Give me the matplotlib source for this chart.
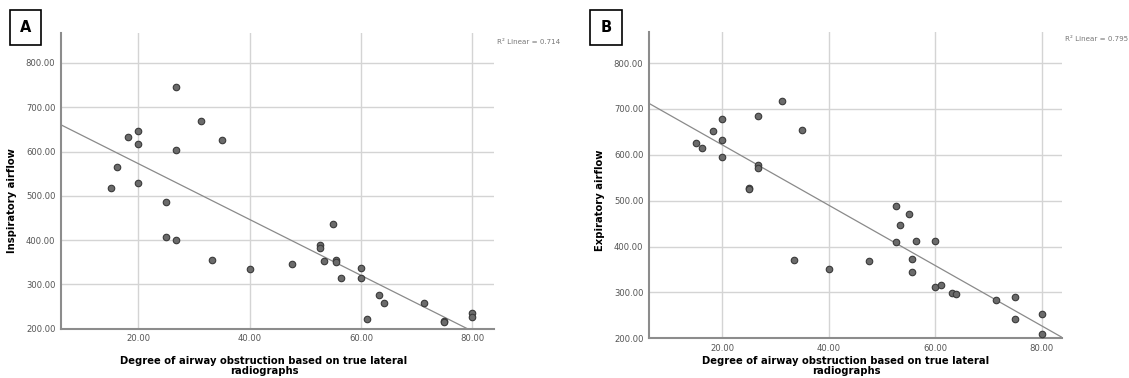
import numpy as np
import matplotlib
matplotlib.use("Agg")
import matplotlib.pyplot as plt

# Panel A: obstruction (%) vs inspiratory airflow
insp_x = [26.7, 31.2, 35.0, 18.2, 20.0, 20.0, 26.7, 16.1, 20.0, 15.0,
          25.0, 25.0, 26.7, 33.3, 40.0, 47.6, 55.0, 52.7, 52.7, 53.3,
          55.6, 55.6, 56.4, 60.0, 60.0, 63.2, 64.1, 61.1, 71.4, 75.0,
          75.0, 80.0, 80.0]
insp_y = [745, 670, 627, 632, 646, 616, 604, 565, 530, 518,
          486, 407, 400, 354, 335, 346, 436, 388, 383, 352,
          355, 350, 315, 336, 315, 277, 257, 221, 257, 218,
          214, 235, 227]

# Panel B: obstruction (%) vs expiratory airflow
exp_x = [31.2, 35.0, 26.7, 20.0, 18.2, 15.0, 16.1, 20.0, 20.0, 26.7,
         26.7, 25.0, 25.0, 33.4, 40.0, 47.6, 52.7, 55.0, 53.4, 52.7,
         56.4, 60.0, 55.6, 55.6, 60.0, 61.1, 63.1, 63.9, 71.4, 75.0,
         75.0, 80.0, 80.0]
exp_y = [717, 654, 685, 678, 652, 626, 614, 632, 595, 577,
         571, 528, 525, 371, 350, 368, 488, 470, 446, 410,
         413, 413, 372, 345, 312, 317, 298, 297, 283, 291,
         241, 252, 210]

x_ticks = [20, 40, 60, 80]
y_ticks = [200, 300, 400, 500, 600, 700, 800]
x_label = "Degree of airway obstruction based on true lateral\nradiographs"

fig = plt.figure(figsize=(11.29, 3.78), dpi=100)


def draw_panel(rect, xs, ys, xlim, ylim, ylabel, ylab_xy, r2, letter,
               letter_pos, r2_pos, xlab_x):
    ax = fig.add_axes(rect)
    ax.set_xlim(*xlim)
    ax.set_ylim(*ylim)
    ax.set_xticks(x_ticks)
    ax.set_yticks(y_ticks)
    ax.set_xticklabels([f"{v:.2f}" for v in x_ticks])
    ax.set_yticklabels([f"{v:.2f}" for v in y_ticks])
    ax.tick_params(length=0, labelsize=6.1, colors="#555555", pad=4)
    ax.grid(True, color="#d4d4d4", linewidth=1.0)
    ax.set_axisbelow(True)
    for s in ["top", "right"]:
        ax.spines[s].set_visible(False)
    for s in ["left", "bottom"]:
        ax.spines[s].set_color("#8c8c8c")
        ax.spines[s].set_linewidth(1.5)

    ax.scatter(xs, ys, s=22, color="#6b6b6b", edgecolor="#3a3a3a",
               linewidth=0.8, zorder=3)

    slope, icpt = np.polyfit(xs, ys, 1)
    lx = np.linspace(xlim[0], xlim[1], 100)
    ax.plot(lx, slope * lx + icpt, color="#8a8a8a", linewidth=0.9, zorder=2,
            clip_on=True)

    ax.set_ylabel(ylabel, fontsize=7.2, fontweight="bold")
    ax.yaxis.set_label_coords(*ylab_xy)
    fig.text(xlab_x, 1 - 356 / 378, x_label, ha="center", va="top",
             fontsize=7.2, fontweight="bold", linespacing=1.05)
    fig.text(r2_pos[0], r2_pos[1], f"R\u00b2 Linear = {r2}", fontsize=5.1,
             color="#777777", va="center", ha="left")
    fig.text(letter_pos[0], letter_pos[1], letter, fontsize=10.5,
             fontweight="bold", ha="center", va="center",
             bbox=dict(boxstyle="square,pad=0.7", facecolor="white",
                       edgecolor="black", linewidth=1.2))
    return ax


draw_panel([61 / 1129, 49.3 / 378, 433 / 1129, 295.7 / 378],
           insp_x, insp_y, (6.1, 83.9), (200, 867.7),
           "Inspiratory airflow", (-0.102, 0.435), "0.714", "A",
           (25.5 / 1129, 1 - 27.5 / 378), (497 / 1129, 1 - 42 / 378),
           264 / 1129)

draw_panel([649 / 1129, 39.7 / 378, 413 / 1129, 306 / 378],
           exp_x, exp_y, (6.2, 83.8), (200, 867),
           "Expiratory airflow", (-0.107, 0.452), "0.795", "B",
           (606 / 1129, 1 - 27.5 / 378), (1065 / 1129, 1 - 39 / 378),
           846 / 1129)

fig.savefig("out.png", dpi=100)
